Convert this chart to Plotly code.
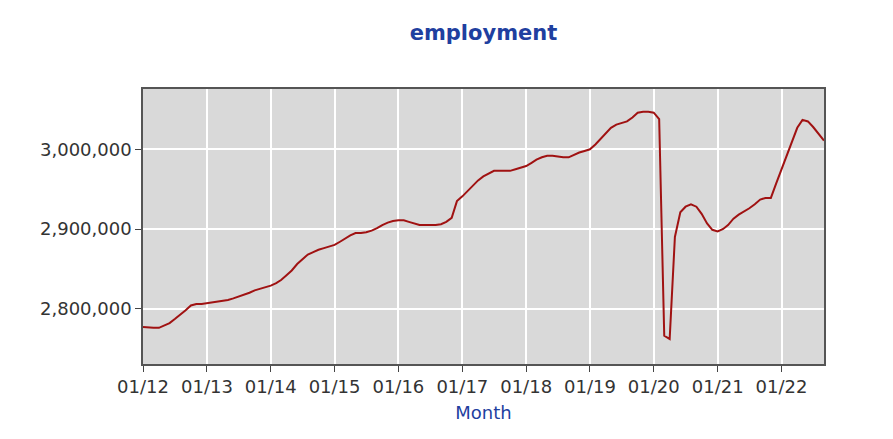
import plotly.graph_objects as go
import pandas as pd

months = pd.date_range("2012-01-01", "2022-09-01", freq="MS")

employment = [
    # 2012
    2777000, 2776000, 2776000, 2776000, 2779000, 2782000, 2787000, 2792000, 2798000, 2804000, 2806000, 2806000,
    # 2013
    2807000, 2808000, 2809000, 2810000, 2811000, 2813000, 2815000, 2818000, 2820000, 2823000, 2825000, 2827000,
    # 2014
    2829000, 2832000, 2836000, 2842000, 2848000, 2856000, 2862000, 2868000, 2871000, 2874000, 2876000, 2878000,
    # 2015
    2880000, 2884000, 2888000, 2892000, 2895000, 2895000, 2896000, 2898000, 2901000, 2905000, 2908000, 2910000,
    # 2016
    2911000, 2911000, 2909000, 2907000, 2905000, 2905000, 2905000, 2905000, 2906000, 2909000, 2914000, 2935000,
    # 2017
    2941000, 2948000, 2955000, 2961000, 2966000, 2970000, 2973000, 2973000, 2973000, 2973000, 2975000, 2977000,
    # 2018
    2979000, 2983000, 2987000, 2990000, 2992000, 2992000, 2991000, 2990000, 2990000, 2993000, 2996000, 2998000,
    # 2019
    3000000, 3006000, 3013000, 3020000, 3027000, 3031000, 3033000, 3035000, 3040000, 3046000, 3047000, 3047000,
    # 2020
    3046000, 3038000, 2766000, 2762000, 2890000, 2921000, 2928000, 2931000, 2928000, 2919000, 2907000, 2899000,
    # 2021
    2897000, 2900000, 2905000, 2913000, 2918000, 2922000, 2926000, 2931000, 2937000, 2939000, 2939000, 2957000,
    # 2022
    2975000, 2993000, 3009000, 3027000, 3037000, 3035000, 3028000, 3019000, 3011000,
]

y_ticks = [2800000, 2900000, 3000000]

font_family = "DejaVu Sans"
tick_color = "#333333"
blue = "#1f3f9f"

fig = go.Figure()
fig.add_trace(go.Scatter(
    x=months, y=employment, mode="lines",
    line=dict(color="#a01212", width=2),
    showlegend=False,
))

fig.update_layout(
    width=893, height=439,
    margin=dict(l=143, r=69, t=89, b=75),
    paper_bgcolor="white",
    plot_bgcolor="#d9d9d9",
    title=dict(text="<b>employment</b>", x=0.5, xref="paper", y=1 - 33 / 439,
               yref="container", yanchor="middle",
               font=dict(family=font_family, size=21, color=blue)),
    font=dict(family=font_family, size=18, color=tick_color),
)

fig.update_xaxes(
    range=["2012-01-01", "2022-09-01"],
    tick0="2012-01-01", dtick="M12", tickformat="%m/%y",
    ticks="outside", ticklen=6, tickcolor="#444444", tickwidth=1,
    showgrid=True, gridcolor="white", gridwidth=1.5,
    showline=True, linecolor="#555555", linewidth=1.5, mirror=True,
    tickfont=dict(family=font_family, size=18, color=tick_color),
    title=dict(text="Month", font=dict(family=font_family, size=18, color=blue), standoff=10),
    zeroline=False,
)
fig.update_yaxes(
    range=[2730600, 3075700],
    tickvals=y_ticks, tickformat=",",
    ticks="outside", ticklen=6, tickcolor="#444444", tickwidth=1,
    showgrid=True, gridcolor="white", gridwidth=1.5,
    showline=True, linecolor="#555555", linewidth=1.5, mirror=True,
    tickfont=dict(family=font_family, size=18, color=tick_color),
    zeroline=False,
)

fig.write_html("out.html", config={"displayModeBar": False},
               post_script="document.body.style.margin='0';")
